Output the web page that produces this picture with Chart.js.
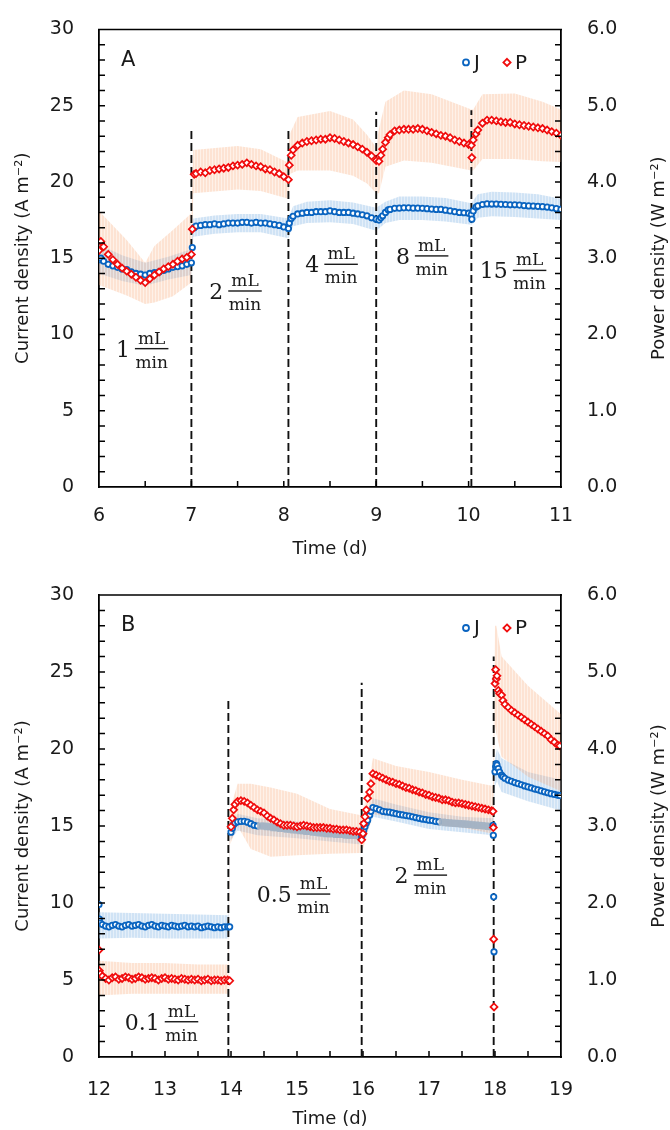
<!DOCTYPE html>
<html>
<head>
<meta charset="utf-8">
<script src="https://cdn.jsdelivr.net/npm/chart.js@4.4.1/dist/chart.umd.min.js"></script>
<style>
  body { margin: 0; background: #fff; }
  canvas { display: block; }
</style>
</head>
<body>
<canvas id="chartA" width="670" height="565"></canvas>
<canvas id="chartB" width="670" height="565"></canvas>
<script>
// ---- Panel A: days 6-11 (J in A m-2, P in W m-2) ----
const A_T = [
  6.00,6.02,6.05,6.10,6.15,6.20,6.25,6.30,6.35,6.40,6.45,6.50,6.55,6.60,6.65,6.70,6.75,6.80,6.85,6.90,6.95,7.00,7.01,
  7.03,7.05,7.10,7.15,7.20,7.25,7.30,7.35,7.40,7.45,7.50,7.55,7.60,7.65,7.70,7.75,7.80,7.85,7.90,7.95,8.00,8.05,
  8.06,8.08,8.10,8.15,8.20,8.25,8.30,8.35,8.40,8.45,8.50,8.55,8.60,8.65,8.70,8.75,8.80,8.85,8.90,8.95,9.00,9.03,
  9.05,9.07,9.10,9.13,9.15,9.20,9.25,9.30,9.35,9.40,9.45,9.50,9.55,9.60,9.65,9.70,9.75,9.80,9.85,9.90,9.95,10.00,10.03,10.035,
  10.05,10.08,10.10,10.15,10.20,10.25,10.30,10.35,10.40,10.45,10.50,10.55,10.60,10.65,10.70,10.75,10.80,10.85,10.90,10.95,11.00
];
const A_J = [
  14.9,15.0,14.8,14.6,14.5,14.4,14.3,14.25,14.1,14.0,13.95,13.9,14.0,14.05,14.1,14.2,14.3,14.4,14.45,14.5,14.6,14.7,15.7,
  17.0,17.1,17.15,17.2,17.2,17.25,17.2,17.25,17.3,17.3,17.3,17.35,17.35,17.3,17.35,17.3,17.3,17.25,17.2,17.15,17.05,16.95,
  17.3,17.6,17.75,17.9,17.95,18.0,18.0,18.05,18.05,18.05,18.1,18.05,18.0,18.0,18.0,17.95,17.9,17.85,17.78,17.65,17.56,17.5,
  17.65,17.78,18.0,18.17,18.2,18.27,18.28,18.3,18.3,18.28,18.28,18.27,18.25,18.22,18.2,18.2,18.15,18.1,18.05,18.0,17.98,17.95,17.86,17.56,
  18.1,18.35,18.43,18.52,18.56,18.55,18.55,18.53,18.52,18.5,18.5,18.48,18.45,18.43,18.42,18.4,18.38,18.35,18.3,18.25,18.2
];
const A_P = [
  3.10,3.22,3.15,3.05,2.98,2.92,2.87,2.83,2.79,2.75,2.71,2.68,2.73,2.78,2.82,2.86,2.89,2.92,2.96,2.99,3.01,3.05,3.38,
  4.10,4.11,4.13,4.12,4.15,4.16,4.17,4.18,4.19,4.21,4.22,4.23,4.25,4.23,4.21,4.20,4.17,4.16,4.13,4.11,4.07,4.03,
  4.22,4.35,4.42,4.48,4.51,4.53,4.54,4.55,4.56,4.56,4.58,4.57,4.55,4.53,4.51,4.49,4.46,4.43,4.39,4.34,4.28,4.27,
  4.35,4.43,4.52,4.58,4.62,4.67,4.68,4.69,4.69,4.69,4.70,4.69,4.67,4.65,4.63,4.61,4.60,4.58,4.55,4.53,4.51,4.49,4.48,4.32,
  4.55,4.63,4.68,4.77,4.81,4.81,4.80,4.79,4.78,4.78,4.76,4.75,4.74,4.73,4.72,4.71,4.70,4.68,4.66,4.64,4.61
];
// error bands (lower / upper edge) read from the shading
const A_JB_T  = [6.00,6.25,6.50,6.75,7.00, 7.02,7.25,7.50,7.75,8.05, 8.10,8.25,8.50,8.75,9.00, 9.10,9.25,9.50,9.75,10.03, 10.10,10.25,10.50,10.75,11.00];
const A_JB_LO = [14.0,13.5,13.2,13.6,13.9, 16.4,16.6,16.7,16.7,16.3, 17.1,17.3,17.35,17.25,16.8, 17.3,17.5,17.5,17.4,17.2, 17.65,17.75,17.7,17.6,17.5];
const A_JB_HI = [15.9,15.2,14.7,15.1,15.6, 17.6,17.8,17.9,17.9,17.6, 18.4,18.7,18.8,18.65,18.3, 18.7,19.05,19.05,18.95,18.6, 19.2,19.35,19.3,19.2,18.9];
const A_PB_T  = [6.00,6.30,6.50,6.60,6.80,7.00, 7.02,7.50,7.75,8.05, 8.06,8.15,8.50,8.75,8.90,9.00, 9.03,9.10,9.30,9.60,10.03, 10.05,10.15,10.50,10.80,11.00];
const A_PB_LO = [2.65,2.51,2.40,2.42,2.50,2.68, 3.85,3.90,3.88,3.78, 4.10,4.15,4.15,4.08,3.98,3.85, 3.85,4.20,4.28,4.25,4.15, 4.15,4.30,4.30,4.27,4.26];
const A_PB_HI = [3.62,3.24,2.94,3.16,3.37,3.59, 4.42,4.47,4.43,4.25, 4.62,4.85,4.93,4.82,4.62,4.45, 4.70,5.05,5.20,5.15,4.95, 4.95,5.15,5.16,5.05,4.95];
const A_DIV_T   = [7.00, 8.05, 9.00, 10.03];
const A_DIV_TOP = [23.4, 23.4, 24.6, 24.7];
const A_RATES   = ['1', '2', '4', '8', '15'];

// ---- Panel B: days 12-19 ----
const B_T = [
  12.00,12.005,12.02,12.05,12.10,12.15,12.20,12.25,12.30,12.35,12.40,12.45,12.50,12.55,12.60,12.65,12.70,12.75,12.80,12.85,12.90,12.95,
  13.00,13.05,13.10,13.15,13.20,13.25,13.30,13.35,13.40,13.45,13.50,13.55,13.60,13.65,13.70,13.75,13.80,13.85,13.90,13.95,13.98,
  14.00,14.02,14.04,14.06,14.10,14.15,14.20,14.25,14.30,14.35,14.40,14.45,14.50,14.55,14.60,14.65,14.70,14.75,14.80,14.85,14.90,14.95,
  15.00,15.05,15.10,15.15,15.20,15.25,15.30,15.35,15.40,15.45,15.50,15.55,15.60,15.65,15.70,15.75,15.80,15.85,15.90,15.95,15.98,
  16.00,16.01,16.03,16.05,16.07,16.10,16.12,16.15,16.20,16.25,16.30,16.35,16.40,16.45,16.50,16.55,16.60,16.65,16.70,16.75,16.80,16.85,16.90,16.95,
  17.00,17.05,17.10,17.15,17.20,17.25,17.30,17.35,17.40,17.45,17.50,17.55,17.60,17.65,17.70,17.75,17.80,17.85,17.90,17.95,17.97,17.975,17.98,17.985,
  18.00,18.01,18.02,18.03,18.05,18.07,18.10,18.12,18.15,18.20,18.25,18.30,18.35,18.40,18.45,18.50,18.55,18.60,18.65,18.70,18.75,18.80,18.85,18.90,18.95,18.98
];
const B_J = [
  9.9,8.95,8.7,8.6,8.5,8.45,8.55,8.6,8.5,8.45,8.55,8.6,8.5,8.55,8.6,8.5,8.45,8.55,8.6,8.5,8.45,8.55,
  8.5,8.45,8.55,8.5,8.45,8.5,8.55,8.45,8.5,8.45,8.5,8.4,8.45,8.5,8.45,8.4,8.45,8.4,8.45,8.45,8.45,
  14.6,14.85,15.1,15.2,15.27,15.3,15.31,15.25,15.15,15.05,15.0,15.0,15.0,14.95,14.95,14.9,14.9,14.85,14.85,14.8,14.8,14.75,
  14.75,14.7,14.7,14.65,14.65,14.6,14.6,14.55,14.55,14.5,14.5,14.5,14.45,14.45,14.45,14.4,14.4,14.4,14.4,14.35,14.3,
  14.5,14.7,14.95,15.2,15.38,15.7,15.95,16.2,16.13,16.05,15.95,15.92,15.9,15.85,15.8,15.75,15.72,15.68,15.65,15.6,15.55,15.5,15.45,15.42,
  15.38,15.35,15.3,15.27,15.25,15.22,15.2,15.18,15.17,15.15,15.14,15.12,15.1,15.08,15.06,15.04,15.02,15.0,14.98,14.95,15.05,14.4,10.4,6.83,
  18.52,18.84,19.06,18.95,18.73,18.5,18.3,18.2,18.1,17.98,17.9,17.82,17.75,17.68,17.6,17.54,17.47,17.4,17.35,17.28,17.22,17.16,17.1,17.05,17.0,16.98
];
const B_P = [
  1.39,1.12,1.08,1.05,1.02,1.00,1.03,1.04,1.01,1.02,1.04,1.03,1.01,1.02,1.04,1.03,1.01,1.02,1.03,1.02,1.00,1.02,
  1.03,1.01,1.02,1.01,1.00,1.02,1.01,1.00,1.01,1.00,1.01,0.99,1.00,1.01,0.99,1.00,1.00,0.99,1.00,1.00,0.99,
  2.99,3.10,3.21,3.28,3.32,3.33,3.32,3.30,3.27,3.24,3.21,3.19,3.17,3.13,3.10,3.08,3.05,3.03,3.01,3.01,3.01,3.00,
  2.99,3.00,3.01,3.00,2.99,2.98,2.98,2.98,2.98,2.97,2.97,2.96,2.96,2.95,2.95,2.95,2.94,2.93,2.93,2.92,2.82,
  2.90,3.03,3.12,3.21,3.36,3.44,3.55,3.68,3.66,3.64,3.62,3.60,3.58,3.57,3.55,3.54,3.52,3.50,3.49,3.47,3.46,3.44,3.43,3.41,
  3.40,3.38,3.37,3.36,3.34,3.34,3.33,3.31,3.30,3.30,3.29,3.28,3.27,3.26,3.25,3.24,3.23,3.22,3.21,3.20,3.19,2.98,1.53,0.65,
  4.85,5.03,4.91,4.95,4.76,4.72,4.70,4.63,4.58,4.54,4.50,4.47,4.44,4.41,4.38,4.35,4.32,4.29,4.26,4.23,4.20,4.17,4.12,4.09,4.05,4.04
];
const B_JB_T  = [12.00,12.50,13.00,13.50,13.96, 13.98,14.10,14.40,15.00,15.50,15.97, 16.00,16.15,16.50,17.00,17.50,17.97, 18.00,18.03,18.10,18.50,19.00];
const B_JB_LO = [7.7,7.75,7.7,7.7,7.7, 14.0,14.7,14.4,14.2,14.0,13.8, 13.9,15.6,15.3,14.8,14.6,14.4, 17.6,17.9,17.2,16.6,16.0];
const B_JB_HI = [9.4,9.35,9.3,9.25,9.2, 15.2,15.8,15.5,15.3,15.0,14.9, 15.0,16.8,16.4,15.9,15.6,15.5, 19.4,20.0,19.4,18.5,18.0];
const B_PB_T  = [12.00,12.50,13.00,13.50,13.96, 13.98,14.10,14.30,14.60,15.00,15.50,15.97, 16.00,16.15,16.50,17.00,17.50,17.97, 18.00,18.02,18.10,18.50,19.00];
const B_PB_LO = [0.80,0.82,0.82,0.82,0.82, 2.75,3.00,2.70,2.60,2.62,2.64,2.65, 2.70,3.15,3.12,3.05,2.98,2.90, 4.30,4.20,3.90,3.64,3.45];
const B_PB_HI = [1.25,1.22,1.22,1.20,1.20, 3.20,3.55,3.55,3.50,3.42,3.22,3.14, 3.15,3.88,3.78,3.70,3.60,3.52, 5.60,5.60,5.20,4.82,4.45];
const B_DIV_T   = [13.96, 15.98, 17.98];
const B_DIV_TOP = [23.3, 24.3, 26.0];
const B_RATES   = ['0.1', '0.5', '2'];

// ---- styling ----
const SANS = 'DejaVu Sans, Liberation Sans, sans-serif';
const SERIF = 'DejaVu Serif, Liberation Serif, serif';
const INK = '#1a1a1a';
const BLUE = '#0a64c0';
const RED = '#f00c0c';
const GREY = 'rgba(165,180,196,0.9)';

Chart.defaults.font.family = SANS;
Chart.defaults.color = INK;

const pts = (T, V) => T.map((t, i) => ({ x: t, y: V[i] }));

function stripes(ctx, rgb, a1, a2) {
  const c = document.createElement('canvas');
  c.width = 3; c.height = 4;
  const g = c.getContext('2d');
  g.fillStyle = `rgba(${rgb},${a1})`; g.fillRect(0, 0, 2, 4);
  g.fillStyle = `rgba(${rgb},${a2})`; g.fillRect(2, 0, 1, 4);
  return ctx.createPattern(c, 'repeat');
}

// inward tick marks + top frame line
const frameTicks = {
  id: 'frameTicks',
  afterDraw(chart, args, o) {
    const { ctx, chartArea: a, scales } = chart;
    const L = 6;
    ctx.save();
    ctx.strokeStyle = '#000';
    ctx.lineWidth = 1.5;
    ctx.beginPath();
    ctx.moveTo(a.left - 1, a.top); ctx.lineTo(a.right + 1, a.top);
    const each = (s, step, fn) => {
      const n = Math.round((s.max - s.min) / step);
      for (let i = 1; i < n; i++) fn(s.getPixelForValue(s.min + i * step));
    };
    each(scales.x, o.xStep, px => { ctx.moveTo(px, a.bottom); ctx.lineTo(px, a.bottom - L); });
    each(scales.y, 1, py => { ctx.moveTo(a.left, py); ctx.lineTo(a.left + L, py); });
    each(scales.y2, 0.2, py => { ctx.moveTo(a.right, py); ctx.lineTo(a.right - L, py); });
    ctx.stroke();
    ctx.restore();
  }
};

// panel letter, legend, right axis title, flow-rate labels
const decor = {
  id: 'decor',
  afterDraw(chart, args, o) {
    const { ctx, chartArea: a, scales } = chart;
    ctx.save();
    ctx.fillStyle = INK;
    ctx.font = `21px ${SANS}`;
    ctx.textAlign = 'left';
    ctx.textBaseline = 'middle';
    ctx.fillText(o.letter, a.left + 22, a.top + 31);

    // legend
    const ly = a.top + 33;
    ctx.lineWidth = 1.8;
    ctx.strokeStyle = BLUE;
    ctx.beginPath(); ctx.arc(a.right - 95, ly, 3, 0, Math.PI * 2); ctx.stroke();
    ctx.strokeStyle = RED;
    ctx.beginPath();
    ctx.moveTo(a.right - 54, ly - 3.6); ctx.lineTo(a.right - 50.4, ly);
    ctx.lineTo(a.right - 54, ly + 3.6); ctx.lineTo(a.right - 57.6, ly); ctx.closePath();
    ctx.stroke();
    ctx.font = `20px ${SANS}`;
    ctx.fillText('J', a.right - 87, ly + 1);
    ctx.fillText('P', a.right - 46, ly + 1);

    // right axis title
    ctx.font = `18px ${SANS}`;
    ctx.save();
    ctx.translate(chart.width - 11, (a.top + a.bottom) / 2);
    ctx.rotate(-Math.PI / 2);
    ctx.textAlign = 'center';
    ctx.fillText('Power density (W m\u207B\u00B2)', 0, 0);
    ctx.restore();

    // flow rate fractions
    o.labels.forEach(l => {
      const cx = scales.x.getPixelForValue(l.t);
      const cy = scales.y.getPixelForValue(l.v);
      ctx.font = `17px ${SERIF}`;
      const w = ctx.measureText('min').width + 1;
      ctx.textAlign = 'center';
      ctx.textBaseline = 'alphabetic';
      ctx.fillText('mL', cx, cy - 5);
      ctx.fillText('min', cx, cy + 19);
      ctx.fillRect(cx - w / 2, cy - 0.7, w, 1.4);
      ctx.font = `22px ${SERIF}`;
      ctx.textAlign = 'right';
      ctx.fillText(l.num, cx - w / 2 - 5, cy + 8);
    });
    ctx.restore();
  }
};

function panel(id, d) {
  const el = document.getElementById(id);
  const c2d = el.getContext('2d');
  const jFill = stripes(c2d, '150,192,232', 0.45, 0.25);
  const pFill = stripes(c2d, '250,175,130', 0.35, 0.18);
  const greyJ = x => d.greyJ.some(r => x >= r[0] && x <= r[1]);

  const datasets = [
    {
      data: pts(d.T, d.P), yAxisID: 'y2', order: 0, showLine: false,
      pointStyle: 'rectRot', pointRadius: 3.5, pointBorderWidth: 1.7,
      pointBorderColor: RED, pointBackgroundColor: '#fff'
    },
    {
      data: pts(d.T, d.J), yAxisID: 'y', order: 1, showLine: false,
      pointStyle: c => greyJ(c.raw.x) ? 'rect' : 'circle',
      pointRadius: c => greyJ(c.raw.x) ? 3.8 : 2.7,
      pointBorderWidth: 1.8,
      pointBorderColor: c => greyJ(c.raw.x) ? GREY : BLUE,
      pointBackgroundColor: c => greyJ(c.raw.x) ? GREY : '#fff'
    }
  ];
  d.divT.forEach((t, i) => datasets.push({
    data: [{ x: t, y: 0 }, { x: t, y: d.divTop[i] }], yAxisID: 'y', order: 2,
    borderColor: '#111', borderWidth: 1.9, borderDash: [8, 4], pointRadius: 0
  }));
  datasets.push(
    { data: pts(d.jbT, d.jbLo), yAxisID: 'y', order: 4, borderColor: 'transparent', borderWidth: 0, pointRadius: 0, fill: false },
    { data: pts(d.jbT, d.jbHi), yAxisID: 'y', order: 4, borderColor: 'transparent', borderWidth: 0, pointRadius: 0, fill: '-1', backgroundColor: jFill },
    { data: pts(d.pbT, d.pbLo), yAxisID: 'y2', order: 3, borderColor: 'transparent', borderWidth: 0, pointRadius: 0, fill: false },
    { data: pts(d.pbT, d.pbHi), yAxisID: 'y2', order: 3, borderColor: 'transparent', borderWidth: 0, pointRadius: 0, fill: '-1', backgroundColor: pFill }
  );

  const tickFont = { size: 19, family: SANS };
  const titleFont = { size: 18, family: SANS };
  return new Chart(el, {
    type: 'line',
    data: { datasets },
    plugins: [frameTicks, decor],
    options: {
      responsive: false,
      animation: false,
      events: [],
      layout: { padding: { top: d.padTop, left: 0, right: 0, bottom: 0 } },
      plugins: {
        legend: { display: false },
        tooltip: { enabled: false },
        frameTicks: { xStep: 0.5 },
        decor: { letter: d.letter, labels: d.labels }
      },
      scales: {
        x: {
          type: 'linear', min: d.xMin, max: d.xMax,
          ticks: { stepSize: 1, padding: d.xTickPad, font: tickFont, color: INK, maxRotation: 0, autoSkip: false },
          grid: { display: false },
          border: { display: true, color: '#000', width: 1.8 },
          title: { display: true, text: 'Time (d)', font: titleFont, color: INK, padding: { top: 0, bottom: d.xTitlePad } },
          afterFit: s => { s.height = d.xH; }
        },
        y: {
          min: 0, max: 30,
          ticks: { stepSize: 5, padding: 17, font: tickFont, color: INK },
          grid: { display: false },
          border: { display: true, color: '#000', width: 1.8 },
          title: { display: true, text: 'Current density (A m\u207B\u00B2)', font: titleFont, color: INK, padding: { top: 13, bottom: 0 } },
          afterFit: s => { s.width = 99; }
        },
        y2: {
          position: 'right', min: 0, max: 6,
          ticks: { stepSize: 1, padding: 18, font: tickFont, color: INK, callback: v => v.toFixed(1) },
          grid: { display: false },
          border: { display: true, color: '#000', width: 1.8 },
          afterFit: s => { s.width = 109; }
        }
      }
    }
  });
}

panel('chartA', {
  T: A_T, J: A_J, P: A_P,
  jbT: A_JB_T, jbLo: A_JB_LO, jbHi: A_JB_HI,
  pbT: A_PB_T, pbLo: A_PB_LO, pbHi: A_PB_HI,
  divT: A_DIV_T, divTop: A_DIV_TOP,
  greyJ: [],
  letter: 'A', xMin: 6, xMax: 11,
  padTop: 24, xH: 78, xTickPad: 10, xTitlePad: 5,
  labels: [
    { t: 6.57, v: 9.07, num: A_RATES[0] },
    { t: 7.58, v: 12.85, num: A_RATES[1] },
    { t: 8.62, v: 14.6, num: A_RATES[2] },
    { t: 9.60, v: 15.15, num: A_RATES[3] },
    { t: 10.66, v: 14.2, num: A_RATES[4] }
  ]
});

panel('chartB', {
  T: B_T, J: B_J, P: B_P,
  jbT: B_JB_T, jbLo: B_JB_LO, jbHi: B_JB_HI,
  pbT: B_PB_T, pbLo: B_PB_LO, pbHi: B_PB_HI,
  divT: B_DIV_T, divTop: B_DIV_TOP,
  greyJ: [[14.42, 15.97], [17.2, 17.96]],
  letter: 'B', xMin: 12, xMax: 19,
  padTop: 30, xH: 73, xTickPad: 14, xTitlePad: 0,
  labels: [
    { t: 13.25, v: 2.29, num: B_RATES[0] },
    { t: 15.25, v: 10.58, num: B_RATES[1] },
    { t: 17.02, v: 11.81, num: B_RATES[2] }
  ]
});
</script>
</body>
</html>
